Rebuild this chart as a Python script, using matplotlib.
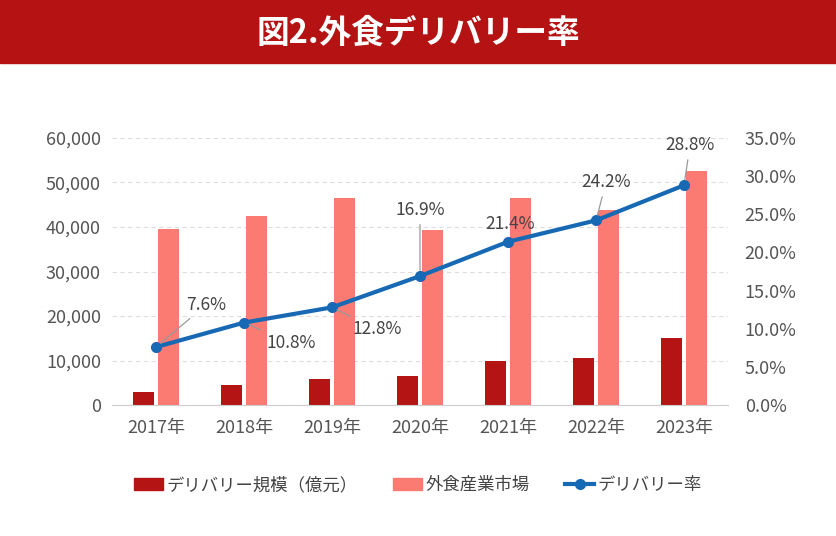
import numpy as np
import matplotlib.pyplot as plt
from matplotlib.patches import Rectangle
from matplotlib.lines import Line2D

plt.rcParams['font.family'] = ['Noto Sans CJK JP', 'DejaVu Sans']

years = ['2017年', '2018年', '2019年', '2020年', '2021年', '2022年', '2023年']
delivery = [2900, 4560, 5820, 6580, 10000, 10600, 15080]
market = [39460, 42500, 46470, 39300, 46620, 43780, 52660]
rate = [7.6, 10.8, 12.8, 16.9, 21.4, 24.2, 28.8]
rate_labels = ['7.6%', '10.8%', '12.8%', '16.9%', '21.4%', '24.2%', '28.8%']

dark_red = '#b41414'
light_red = '#fb7b73'
blue = '#1769b4'
grey_txt = '#555555'

fig = plt.figure(figsize=(8.36, 5.36), dpi=100)

# title band
fig.patches.append(Rectangle((0, 1 - 63 / 536), 1, 63 / 536, transform=fig.transFigure,
                             color='#b51313', zorder=0))
fig.text(0.5, 1 - 33 / 536, '図2.外食デリバリー率', color='white', fontsize=23.5,
         fontweight='bold', ha='center', va='center')

ax = fig.add_axes([112 / 836, 1 - 405 / 536, 616 / 836, 267 / 536])
x = np.arange(len(years))
w = 0.23
off = 0.142
ax.bar(x - off, delivery, w, color=dark_red, zorder=2)
ax.bar(x + off, market, w, color=light_red, zorder=2)
ax.set_ylim(0, 60000)
ax.set_xlim(-0.5, 6.5)
ax.set_yticks(range(0, 60001, 10000))
ax.set_yticklabels([f'{v:,}' for v in range(0, 60001, 10000)])
ax.set_xticks(x)
ax.set_xticklabels(years)
ax.yaxis.grid(True, color='#dddddd', linestyle=(0, (4, 3)), linewidth=0.8, zorder=0)
ax.set_axisbelow(True)
for s in ['top', 'right', 'left']:
    ax.spines[s].set_visible(False)
ax.spines['bottom'].set_color('#cccccc')
ax.tick_params(axis='both', length=0, labelsize=13, labelcolor=grey_txt)
ax.tick_params(axis='y', pad=8)
ax.tick_params(axis='x', pad=10)

ax2 = ax.twinx()
ax2.plot(x, rate, color=blue, linewidth=3, marker='o', markersize=7, zorder=5)
ax2.set_ylim(0, 35)
ax2.set_yticks(np.arange(0, 35.1, 5))
ax2.set_yticklabels([f'{v:.1f}%' for v in np.arange(0, 35.1, 5)])
for s in ax2.spines.values():
    s.set_visible(False)
ax2.tick_params(axis='y', length=0, labelsize=13, labelcolor=grey_txt, pad=12)

# data labels with leader lines (pixel offsets)
offsets = [(30, 42), (22, -20), (20, -22), (0, 57), (2, 9), (10, 29), (6, 31)]
aligns = [('left', 'center'), ('left', 'center'), ('left', 'center'),
          ('center', 'bottom'), ('center', 'bottom'), ('center', 'bottom'), ('center', 'bottom')]
for i, (lab, (dx, dy), (ha, va)) in enumerate(zip(rate_labels, offsets, aligns)):
    ax2.annotate(lab, (x[i], rate[i]), xytext=(dx, dy), textcoords='offset pixels',
                 ha=ha, va=va, fontsize=12.5, color='#444444', zorder=6,
                 arrowprops=dict(arrowstyle='-', color='#999999', lw=0.9,
                                 shrinkA=2, shrinkB=4) if i != 4 else None)

handles = [Rectangle((0, 0), 1, 1, color=dark_red),
           Rectangle((0, 0), 1, 1, color=light_red),
           Line2D([0], [0], color=blue, lw=3, marker='o', markersize=7)]
labels = ['デリバリー規模（億元）', '外食産業市場', 'デリバリー率']
fig.legend(handles, labels, loc='center', bbox_to_anchor=(0.5, 1 - 485 / 536), ncol=3,
           frameon=False, fontsize=12.5, handlelength=1.7, handletextpad=0.2,
           columnspacing=2.0, labelcolor='#444444')

fig.savefig('out.png', dpi=100)
